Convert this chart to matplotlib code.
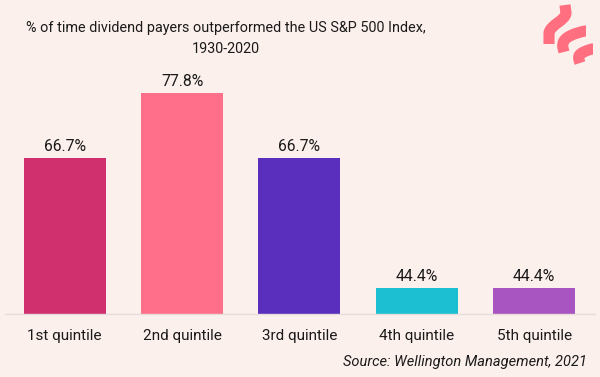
import matplotlib.pyplot as plt
from matplotlib.path import Path
from matplotlib.patches import PathPatch

plt.rcParams['font.family'] = ['Roboto', 'DejaVu Sans']

categories = ['1st quintile', '2nd quintile', '3rd quintile', '4th quintile', '5th quintile']
values = [66.7, 77.8, 66.7, 44.4, 44.4]
colors = ['#d0306e', '#ff6f8a', '#5a2fbd', '#1bbfd1', '#a855c2']
bg = '#fcf0ec'

fig = plt.figure(figsize=(6, 3.77), dpi=100, facecolor=bg)
ax = fig.add_axes([0.008, 0.167, 0.984, 0.647])
ax.set_facecolor(bg)

x = range(len(categories))
bars = ax.bar(x, values, width=0.70, color=colors, zorder=2)
for b, v in zip(bars, values):
    ax.annotate(f'{v:.1f}%', (b.get_x() + b.get_width() / 2, v), xytext=(0, 3),
                textcoords='offset points', ha='center', va='bottom',
                fontsize=11.3, color='#1a1a1a')

ax.set_xlim(-0.51, 4.52)
ax.set_ylim(40, 81.8)
ax.set_xticks(list(x))
ax.set_xticklabels(categories, fontsize=11, color='#1a1a1a')
ax.tick_params(axis='x', length=0, pad=11)
ax.set_yticks([])
for s in ['top', 'right', 'left']:
    ax.spines[s].set_visible(False)
ax.spines['bottom'].set_color('#e6dcdb')
ax.spines['bottom'].set_linewidth(1)

fig.text(0.377, 0.898, '% of time dividend payers outperformed the US S&P 500 Index,\n1930-2020',
         ha='center', va='center', fontsize=10.4, color='#1a1a1a', linespacing=1.6)
fig.text(0.979, 0.04, 'Source: Wellington Management, 2021', ha='right', va='center',
         fontsize=10.5, style='italic', color='#1a1a1a')

# logo in pixel coordinates
lax = fig.add_axes([0, 0, 1, 1], zorder=5)
lax.set_xlim(0, 600)
lax.set_ylim(377, 0)
lax.axis('off')
strokes = [
    [(565, 5), (566, 13), (566, 20), (550, 25), (549, 33), (549, 44)],
    [(586, 31), (585, 31), (562, 36), (562, 43), (563, 48), (564, 52)],
    [(593, 49), (592, 49), (578, 53), (578, 56), (579, 60), (580, 63)],
]
codes = [Path.MOVETO, Path.LINETO, Path.CURVE4, Path.CURVE4, Path.CURVE4, Path.LINETO]
for pts in strokes:
    lax.add_patch(PathPatch(Path(pts, codes), facecolor='none', edgecolor='#ff6f7f',
                            lw=8, capstyle='butt', joinstyle='round'))

fig.savefig('out.png', dpi=100, facecolor=bg)
